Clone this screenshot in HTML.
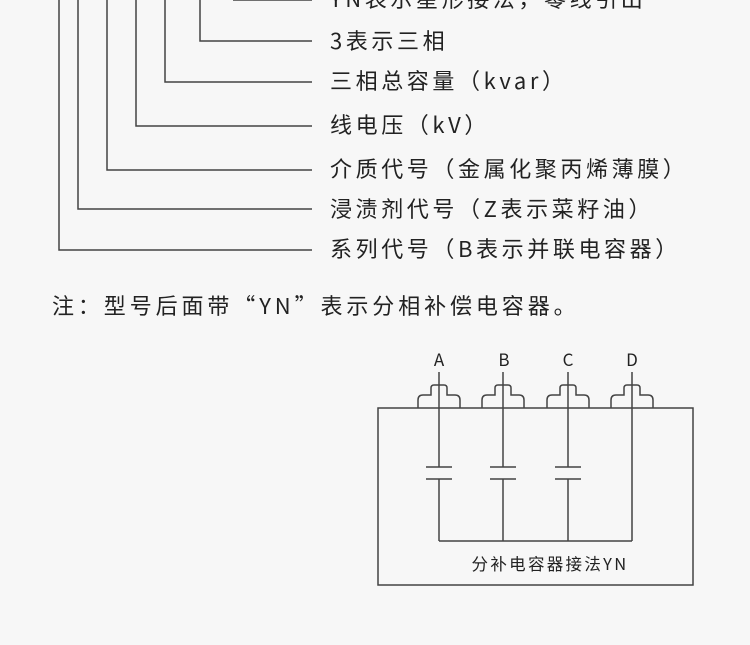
<!DOCTYPE html>
<html><head><meta charset="utf-8"><style>
body{margin:0;background:#f7f7f7;width:750px;height:645px;overflow:hidden;font-family:"Noto Sans CJK SC","Liberation Sans",sans-serif;color:#222}
.t{position:absolute;left:330px;font-size:22px;letter-spacing:3.6px;white-space:nowrap;line-height:1}
</style></head><body>
<svg width="750" height="645" style="position:absolute;left:0;top:0" fill="none" stroke="#444" stroke-width="1.5">
<polyline points="233,0 312,0"/>
<polyline points="200,0 200,41 312,41"/>
<polyline points="165,0 165,82 312,82"/>
<polyline points="136,0 136,126 312,126"/>
<polyline points="107,0 107,170 312,170"/>
<polyline points="78,0 78,209 312,209"/>
<polyline points="59,0 59,250 312,250"/>
<rect x="378" y="408" width="315" height="177"/>
<g id="term">
<path d="M418,408 V400 Q418,395 423,395 H431 V388 Q431,385 434,385 H444 Q447,385 447,388 V395 H455 Q460,395 460,400 V408"/>
</g>
<use href="#term" x="64"/><use href="#term" x="129"/><use href="#term" x="193"/>
<line x1="439" y1="372" x2="439" y2="467"/><line x1="439" y1="479" x2="439" y2="541"/>
<line x1="503" y1="372" x2="503" y2="467"/><line x1="503" y1="479" x2="503" y2="541"/>
<line x1="568" y1="372" x2="568" y2="467"/><line x1="568" y1="479" x2="568" y2="541"/>
<line x1="632" y1="372" x2="632" y2="541"/>
<line x1="439" y1="541" x2="632" y2="541"/>
<line x1="426" y1="467" x2="452" y2="467"/><line x1="426" y1="479" x2="452" y2="479"/>
<line x1="490" y1="467" x2="516" y2="467"/><line x1="490" y1="479" x2="516" y2="479"/>
<line x1="555" y1="467" x2="581" y2="467"/><line x1="555" y1="479" x2="581" y2="479"/>
<g fill="#222" stroke="none" font-size="17" font-family="Noto Sans CJK SC,sans-serif" text-anchor="middle">
<text x="439" y="366">A</text><text x="504" y="366">B</text><text x="568" y="366">C</text><text x="632" y="366">D</text>
<text x="550" y="570" font-size="16.5" letter-spacing="2.3">分补电容器接法YN</text>
</g>
</svg>
<div class="t" style="top:-13px">YN表示星形接法，零线引出</div>
<div class="t" style="top:29px">3表示三相</div>
<div class="t" style="top:69px">三相总容量（kvar）</div>
<div class="t" style="top:113px">线电压（kV）</div>
<div class="t" style="top:157px">介质代号（金属化聚丙烯薄膜）</div>
<div class="t" style="top:197px">浸渍剂代号（Z表示菜籽油）</div>
<div class="t" style="top:237px">系列代号（B表示并联电容器）</div>
<div class="t" style="left:52px;top:294px;letter-spacing:3.9px">注：型号后面带“YN”表示分相补偿电容器。</div>
</body></html>
